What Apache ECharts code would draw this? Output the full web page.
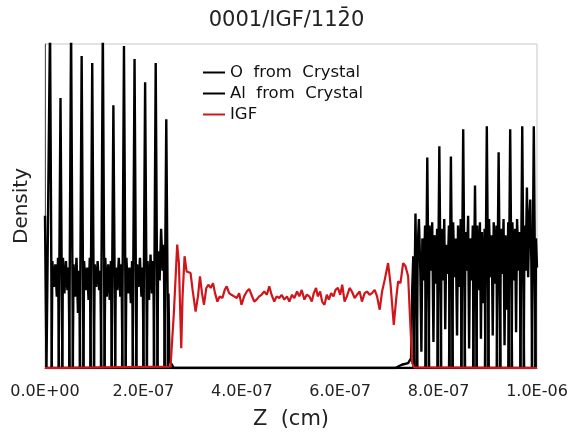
<!DOCTYPE html>
<html>
<head>
<meta charset="utf-8">
<title>0001/IGF/1120 density profile</title>
<script src="https://cdn.jsdelivr.net/npm/echarts@6/dist/echarts.min.js"></script>
<style>
  html, body { margin: 0; padding: 0; background: #fff; }
  #chart { width: 573px; height: 440px; }
</style>
</head>
<body>
<div id="chart"></div>
<script>
// Z positions are in units of 1e-9 cm; densities in arbitrary units.
const zTicks = [0, 200, 400, 600, 800, 1000];

// Oxygen density from the two crystal slabs
const oxygen = [
  [0, 0.47], [3, 0],
  [6.4, 0], [10.2, 1.06], [14, 0],
  [27.7, 0], [31.5, 0.833], [35.3, 0],
  [49.2, 0], [53, 1.06], [56.8, 0],
  [70.7, 0], [74.5, 0.963], [78.3, 0],
  [92.2, 0], [96, 0.941], [99.8, 0],
  [113.7, 0], [117.5, 1.06], [121.3, 0],
  [135.2, 0], [139, 0.811], [142.8, 0],
  [156.7, 0], [160.5, 0.994], [164.3, 0],
  [178.2, 0], [182, 0.954], [185.8, 0],
  [199.7, 0], [203.5, 0.882], [207.3, 0],
  [221.2, 0], [225, 0.941], [228.8, 0],
  [242.7, 0], [246.5, 0.768], [250.3, 0],
  [749.2, 0], [753, 0.477], [756.8, 0],
  [773.2, 0], [777, 0.650], [780.8, 0],
  [797.7, 0], [801.5, 0.684], [805.3, 0],
  [821.2, 0], [825, 0.653], [828.8, 0],
  [846.2, 0], [850, 0.737], [853.8, 0],
  [870.2, 0], [874, 0.563], [877.8, 0],
  [894.2, 0], [898, 0.746], [901.8, 0],
  [918.2, 0], [922, 0.666], [925.8, 0],
  [941.7, 0], [945.5, 0.737], [949.3, 0],
  [966.2, 0], [970, 0.746], [973.8, 0],
  [989.7, 0], [993.5, 0.746], [997.3, 0]
];

// Aluminium density from the two crystal slabs
const aluminium = [
  [0, 0], [13.5, 0], [15, 0.33], [18, 0.25], [21, 0.32], [24, 0.22], [26.5, 0.34], [28.5, 0],
  [35, 0], [36.5, 0.34], [39.5, 0.23], [42.5, 0.33], [45.5, 0.24], [48, 0.31], [50, 0],
  [56.5, 0], [58, 0.32], [61, 0.22], [64, 0.34], [67, 0.17], [69.5, 0.30], [71.5, 0],
  [78, 0], [79.5, 0.33], [82.5, 0.24], [85.5, 0.31], [88.5, 0.21], [91, 0.34], [93, 0],
  [99.5, 0], [101, 0.32], [104, 0.25], [107, 0.33], [110, 0.24], [112.5, 0.30], [114.5, 0],
  [121, 0], [122.5, 0.34], [125.5, 0.22], [128.5, 0.32], [131.5, 0.21], [134, 0.33], [136, 0],
  [142.5, 0], [144, 0.31], [147, 0.24], [150, 0.34], [153, 0.22], [155.5, 0.32], [157.5, 0],
  [164, 0], [165.5, 0.34], [168.5, 0.23], [171.5, 0.31], [174.5, 0.20], [177, 0.33], [179, 0],
  [185.5, 0], [187, 0.32], [190, 0.25], [193, 0.34], [196, 0.22], [198.5, 0.31], [200.5, 0],
  [207, 0], [208.5, 0.33], [211.5, 0.21], [214.5, 0.35], [217.5, 0.23], [220, 0.33], [222, 0],
  [228.5, 0], [230, 0.36], [233, 0.27], [236, 0.43], [239, 0.30], [241.5, 0.38], [243.5, 0],
  [249.5, 0], [251, 0.23], [253, 0.02], [258, 0.01], [262, 0],
  [712, 0], [725, 0.01], [738, 0.015], [744, 0.03], [746.5, 0.25], [748.5, 0.345], [750, 0.30], [751, 0],
  [756, 0], [757.5, 0.37], [760, 0.46], [763, 0.29], [765, 0.05], [767, 0.40], [770, 0.27], [772.5, 0.44], [774, 0],
  [780, 0], [781.5, 0.44], [784.5, 0.30], [787, 0.45], [789.5, 0.08], [791.5, 0.41], [794.5, 0.26], [797, 0.43], [798.5, 0],
  [804.5, 0], [806, 0.43], [809, 0.27], [811.5, 0.46], [813.5, 0.12], [815.5, 0.38], [818.5, 0.29], [821, 0.44], [822.5, 0],
  [828, 0], [829.5, 0.45], [832.5, 0.28], [835, 0.40], [837.5, 0.10], [839.5, 0.44], [842.5, 0.25], [845, 0.46], [846.5, 0],
  [853, 0], [854.5, 0.42], [857.5, 0.30], [860, 0.47], [862, 0.06], [864, 0.40], [867, 0.27], [869.5, 0.44], [871, 0],
  [877, 0], [878.5, 0.44], [881.5, 0.24], [884, 0.45], [886, 0.09], [888, 0.42], [891, 0.20], [893.5, 0.43], [895, 0],
  [901, 0], [902.5, 0.46], [905.5, 0.28], [908, 0.41], [910, 0.10], [912, 0.45], [915, 0.26], [917.5, 0.44], [919, 0],
  [925, 0], [926.5, 0.43], [929.5, 0.29], [932, 0.46], [934, 0.07], [936, 0.41], [939, 0.18], [941.5, 0.45], [943, 0],
  [948.5, 0], [950, 0.45], [953, 0.27], [955.5, 0.43], [957.5, 0.11], [959.5, 0.46], [962.5, 0.30], [965, 0.42], [966.5, 0],
  [973, 0], [974.5, 0.44], [977, 0.30], [979.5, 0.557], [982, 0.28], [984, 0.45], [986.3, 0.52], [988.5, 0.33], [990, 0],
  [996.5, 0], [998, 0.40], [1000, 0.31]
];

// Intergranular film density
const igf = [
  [0, 0], [255.1, 0.004], [261.9, 0.169], [268.7, 0.381], [272.1, 0.324], [276.9, 0.061],
  [279.6, 0.221], [283.7, 0.345], [287.8, 0.298], [291.2, 0.303], [295.9, 0.293], [300.0, 0.241],
  [306.1, 0.174], [310.9, 0.221], [315.0, 0.283], [319.1, 0.231], [323.1, 0.195], [327.9, 0.247],
  [332.0, 0.257], [336.7, 0.247], [341.5, 0.262], [345.6, 0.231], [350.4, 0.205], [355.1, 0.221],
  [360.6, 0.216], [365.3, 0.241], [369.4, 0.252], [374.2, 0.231], [378.9, 0.226], [384.4, 0.221],
  [389.8, 0.216], [394.6, 0.231], [399.3, 0.195], [404.8, 0.221], [410.2, 0.236], [415.0, 0.244],
  [419.7, 0.226], [425.2, 0.205], [430.0, 0.211], [435.4, 0.221], [440.1, 0.226], [445.6, 0.236],
  [451.0, 0.226], [455.8, 0.252], [460.5, 0.226], [466.0, 0.205], [470.8, 0.221], [476.2, 0.216],
  [481.0, 0.226], [486.4, 0.211], [491.9, 0.221], [496.6, 0.205], [502.1, 0.226], [506.8, 0.216],
  [512.3, 0.236], [517.0, 0.221], [521.8, 0.241], [527.2, 0.211], [532.0, 0.226], [537.4, 0.221],
  [542.2, 0.205], [546.3, 0.231], [551.0, 0.247], [554.4, 0.221], [559.2, 0.236], [563.3, 0.205],
  [568.0, 0.195], [572.8, 0.226], [576.9, 0.211], [581.6, 0.231], [586.4, 0.221], [590.5, 0.241],
  [595.3, 0.247], [600.0, 0.226], [604.1, 0.257], [608.9, 0.205], [613.6, 0.221], [619.1, 0.247],
  [623.8, 0.236], [629.3, 0.216], [634.0, 0.226], [639.5, 0.236], [644.2, 0.205], [649.7, 0.231],
  [654.4, 0.236], [659.9, 0.226], [664.7, 0.231], [670.1, 0.241], [674.9, 0.221], [680.3, 0.180],
  [685.1, 0.236], [690.5, 0.272], [697.3, 0.324], [702.1, 0.262], [708.9, 0.133], [714.3, 0.221],
  [717.7, 0.267], [722.5, 0.262], [727.9, 0.324], [732.7, 0.314], [738.1, 0.283], [741.5, 0.169],
  [746.3, 0.015], [750.4, 0.002], [1000, 0]
];

const seriesNames = ['O from Crystal', 'Al from Crystal', 'IGF'];

// Tick label in the style 2.0E-07 (values are multiples of 1e-9 cm)
function sciLabel(v) {
  const cm = v * 1e-9;
  if (cm === 0) return '0.0E+00';
  const exp = Math.floor(Math.log10(cm) + 1e-9);
  const mant = cm / Math.pow(10, exp);
  const sign = exp < 0 ? '-' : '+';
  const e = String(Math.abs(exp)).padStart(2, '0');
  return mant.toFixed(1) + 'E' + sign + e;
}

const FONT = 'DejaVu Sans';
const chart = echarts.init(document.getElementById('chart'), null, { renderer: 'canvas' });

chart.setOption({
  animation: false,
  backgroundColor: '#ffffff',
  title: {
    text: '0001/IGF/112\u03040',
    left: 'center',
    top: 5,
    textStyle: { fontFamily: FONT, fontSize: 21, fontWeight: 'normal', color: '#222' }
  },
  legend: {
    orient: 'vertical',
    left: 198,
    top: 59,
    itemWidth: 22,
    itemHeight: 2,
    itemGap: 4,
    icon: 'rect',
    data: seriesNames,
    formatter: name => name.split(' ').join('  '),
    textStyle: { fontFamily: FONT, fontSize: 16.5, color: '#111' }
  },
  grid: {
    left: 45, right: 36, top: 44, bottom: 72,
    show: true, borderColor: '#c8c8c8', borderWidth: 1
  },
  xAxis: {
    type: 'value',
    min: 0, max: 1000, interval: 200,
    name: 'Z  (cm)',
    nameLocation: 'middle',
    nameGap: 41,
    nameTextStyle: { fontFamily: FONT, fontSize: 21, color: '#222' },
    axisLine: { show: true, lineStyle: { color: '#555', width: 1 } },
    axisTick: { show: false },
    splitLine: { show: false },
    axisLabel: {
      formatter: v => (zTicks.indexOf(v) >= 0 ? sciLabel(v) : ''),
      fontFamily: FONT, fontSize: 16, color: '#222', margin: 16
    }
  },
  yAxis: {
    type: 'value',
    min: 0, max: 1,
    name: 'Density',
    nameLocation: 'middle',
    nameGap: 13,
    nameRotate: 90,
    nameTextStyle: { fontFamily: FONT, fontSize: 20, color: '#222' },
    axisLine: { show: true, lineStyle: { color: '#555', width: 1 } },
    axisTick: { show: false },
    axisLabel: { show: false },
    splitLine: { show: false }
  },
  series: [
    {
      name: seriesNames[0], type: 'line', data: oxygen,
      showSymbol: false, symbol: 'none',
      lineStyle: { color: '#000', width: 2.4 }, itemStyle: { color: '#000' }
    },
    {
      name: seriesNames[1], type: 'line', data: aluminium,
      showSymbol: false, symbol: 'none',
      lineStyle: { color: '#000', width: 2.4 }, itemStyle: { color: '#000' }
    },
    {
      name: seriesNames[2], type: 'line', data: igf,
      showSymbol: false, symbol: 'none',
      lineStyle: { color: '#d0161b', width: 2.2 }, itemStyle: { color: '#d0161b' }
    }
  ]
});
</script>
</body>
</html>
